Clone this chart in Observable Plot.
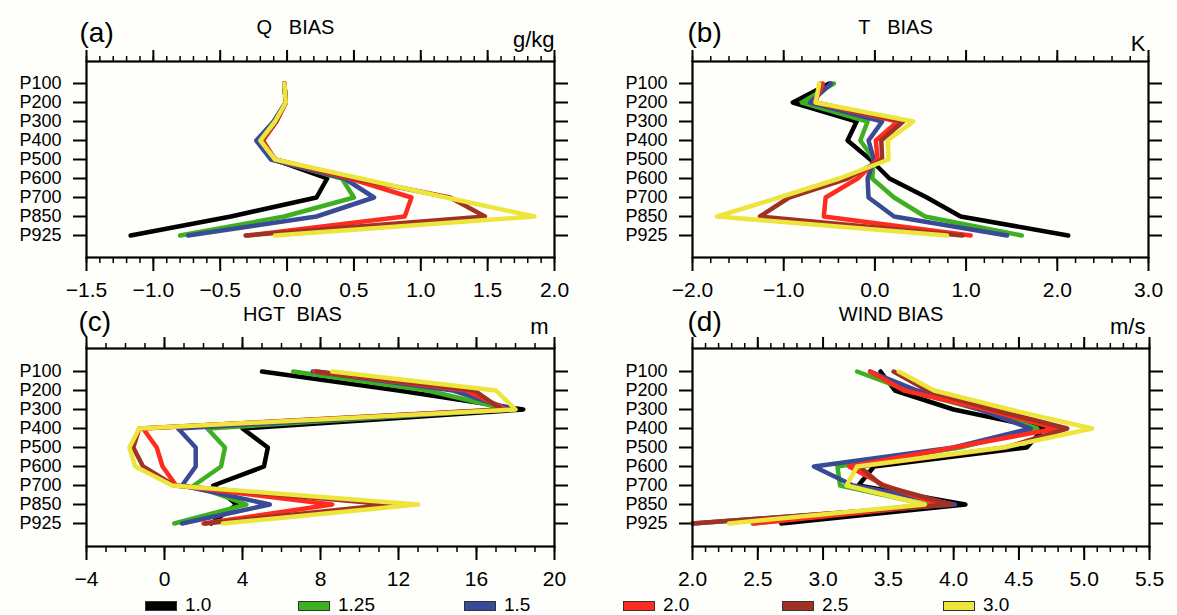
<!DOCTYPE html>
<html><head><meta charset="utf-8">
<script src="https://cdn.jsdelivr.net/npm/d3@7"></script>
<script src="https://cdn.jsdelivr.net/npm/@observablehq/plot@0.6"></script>
<style>
html,body{margin:0;padding:0;background:#fefefb;}
#root{position:relative;width:1177px;height:615px;overflow:hidden;font-family:"Liberation Sans",Arial,sans-serif;background:#fefefb;}
.panel{position:absolute;}
.sw{position:absolute;width:32px;height:10px;border:1px solid #333;box-sizing:border-box;}
.lg{position:absolute;font-size:19px;line-height:1;color:#000;}
</style></head><body><div id="root"></div>
<script>
// ---------- data ----------
const levels = ["P100","P200","P300","P400","P500","P600","P700","P850","P925"];
const series = ["1.0","1.25","1.5","2.0","2.5","3.0"];
const seriesColors = ["#000000","#3cb021","#394a96","#ff2b1f","#a03224","#ede53c"];

// one row per series (1.0, 1.25, 1.5, 2.0, 2.5, 3.0), one value per level
const qBias = [
  [-0.02,-0.01,-0.09,-0.21,-0.10, 0.30, 0.22,-0.42,-1.17],
  [-0.02,-0.01,-0.10,-0.22,-0.11, 0.41, 0.50,-0.02,-0.80],
  [-0.02,-0.01,-0.10,-0.23,-0.12, 0.43, 0.65, 0.22,-0.74],
  [-0.02,-0.01,-0.08,-0.18,-0.09, 0.47, 0.93, 0.88,-0.30],
  [-0.02,-0.01,-0.08,-0.19,-0.09, 0.50, 1.22, 1.48,-0.31],
  [-0.02,-0.01,-0.09,-0.20,-0.09, 0.55, 1.19, 1.85,-0.09]
];
const tBias = [
  [-0.50,-0.90,-0.20,-0.30,-0.05, 0.16, 0.57, 0.94, 2.12],
  [-0.45,-0.80,-0.08,-0.16,-0.01,-0.03, 0.21, 0.55, 1.61],
  [-0.48,-0.71, 0.08,-0.07,-0.01,-0.08,-0.07, 0.21, 1.45],
  [-0.57,-0.66, 0.25, 0.01, 0.03,-0.19,-0.54,-0.56, 1.05],
  [-0.60,-0.65, 0.31, 0.07, 0.08,-0.30,-0.94,-1.26, 0.96],
  [-0.61,-0.65, 0.42, 0.14, 0.15,-0.39,-1.05,-1.73, 0.79]
];
const hgtBias = [
  [5.0, 12.0, 18.4, 4.0, 5.3, 5.1, 2.5, 3.7, 2.4],
  [6.6, 13.5, 17.6, 2.2, 3.1, 2.9, 1.5, 4.2, 0.5],
  [7.6, 14.8, 17.8, 0.7, 1.6, 1.6, 0.9, 5.4, 0.9],
  [7.7, 15.5, 17.5,-1.1,-0.4,-0.1, 0.6, 8.6, 2.0],
  [7.8, 15.9, 17.3,-1.3,-1.6,-1.1, 0.5,11.6, 2.1],
  [8.6, 17.0, 18.0,-1.3,-1.8,-1.5, 0.4,13.0, 3.0]
];
const windBias = [
  [3.44, 3.55, 4.00, 4.69, 4.56, 3.39, 3.27, 4.09, 2.68],
  [3.26, 3.65, 4.20, 4.64, 4.05, 3.11, 3.13, 3.80, 2.46],
  [3.36, 3.72, 4.20, 4.59, 4.00, 2.93, 3.23, 4.01, 2.00],
  [3.36, 3.62, 4.25, 4.79, 4.00, 3.20, 3.47, 3.90, 2.47],
  [3.54, 3.80, 4.30, 4.87, 4.40, 3.28, 3.45, 3.98, 2.00],
  [3.58, 3.85, 4.43, 5.06, 4.38, 3.26, 3.18, 3.78, 2.28]
];

const qTicks = [-1.5,-1.0,-0.5,0,0.5,1.0,1.5,2.0];
const qTickLabels = ["\u22121.5","\u22121.0","\u22120.5","0.0","0.5","1.0","1.5","2.0"];
const tTicks = [-2,-1,0,1,2,3];
const tTickLabels = ["\u22122.0","\u22121.0","0.0","1.0","2.0","3.0"];
const hgtTicks = [-4,0,4,8,12,16,20];
const hgtTickLabels = ["\u22124","0","4","8","12","16","20"];
const windTicks = [2.0,2.5,3.0,3.5,4.0,4.5,5.0,5.5];
const windTickLabels = ["2.0","2.5","3.0","3.5","4.0","4.5","5.0","5.5"];

// ---------- drawing ----------
const root = document.getElementById("root");

function toRows(values) {
  const rows = [];
  values.forEach((vals, si) => vals.forEach((v, li) => rows.push({series: series[si], level: levels[li], value: v})));
  return rows;
}

function panel(o) {
  const [x0, x1] = [o.ticks[0], o.ticks[o.ticks.length - 1]];
  const n = Math.round((x1 - x0) / o.minorStep);
  const minor = d3.range(n + 1).map(i => +(x0 + i * o.minorStep).toFixed(6));
  const labelMap = new Map(o.ticks.map((t, i) => [t, o.labels[i]]));
  const fd = {frameAnchor: "top-left", lineAnchor: "bottom", fill: "black", text: d => d};
  const svg = Plot.plot({
    width: o.width, height: o.height,
    marginLeft: o.mL, marginRight: o.mR, marginTop: o.mT, marginBottom: o.mB,
    style: {background: "transparent", fontFamily: "'Liberation Sans', Arial, sans-serif", color: "black", overflow: "visible"},
    x: {domain: [x0, x1], label: null},
    y: {type: "point", domain: levels, padding: 1, label: null},
    color: {domain: series, range: seriesColors},
    marks: [
      Plot.axisX({anchor: "top", ticks: minor, tickSize: 6, tickFormat: () => "", strokeWidth: 1.5, label: null}),
      Plot.axisX({anchor: "top", ticks: o.ticks, tickSize: 12, tickFormat: () => "", strokeWidth: 2, label: null}),
      Plot.axisX({anchor: "bottom", ticks: minor, tickSize: 6, tickFormat: () => "", strokeWidth: 1.5, label: null}),
      Plot.axisX({anchor: "bottom", ticks: o.ticks, tickSize: 14, tickPadding: 11, tickFormat: d => labelMap.get(d), fontSize: 21, strokeWidth: 2, label: null}),
      Plot.axisY({anchor: "left", tickSize: 13, tickPadding: 12, fontSize: 18, strokeWidth: 2, label: null}),
      Plot.axisY({anchor: "right", tickSize: 13, tickFormat: () => "", strokeWidth: 2, label: null}),
      Plot.line(toRows(o.values), {x: "value", y: "level", z: "series", stroke: "series", strokeWidth: 4.5}),
      Plot.frame({stroke: "black", strokeWidth: 2.2}),
      Plot.text([o.title], {...fd, frameAnchor: "top", dx: o.titleDx, dy: -28, fontSize: 20}),
      Plot.text([o.letter], {...fd, frameAnchor: "top-left", textAnchor: "start", dx: o.letterDx, dy: o.letterDy, fontSize: 28}),
      Plot.text([o.unit], {...fd, frameAnchor: "top-right", textAnchor: "end", dx: o.unitDx, dy: o.unitDy, fontSize: 22})
    ]
  });
  const wrap = document.createElement("div");
  wrap.className = "panel";
  wrap.style.left = o.left + "px";
  wrap.style.top = o.top + "px";
  wrap.appendChild(svg);
  root.appendChild(wrap);
}

panel({values: qBias, ticks: qTicks, labels: qTickLabels, minorStep: 0.1,
  left: 0, top: 0, width: 588, height: 300, mL: 86, mR: 34, mT: 61, mB: 43,
  title: "Q\u00a0\u00a0 BIAS", titleDx: -25, letter: "(a)", letterDx: -7, letterDy: -20, unit: "g/kg", unitDx: 0, unitDy: -15});
panel({values: tBias, ticks: tTicks, labels: tTickLabels, minorStep: 0.2,
  left: 588, top: 0, width: 589, height: 300, mL: 104, mR: 29, mT: 61, mB: 43,
  title: "T\u00a0\u00a0 BIAS", titleDx: -25, letter: "(b)", letterDx: -5, letterDy: -20, unit: "K", unitDx: -3, unitDy: -11});
panel({values: hgtBias, ticks: hgtTicks, labels: hgtTickLabels, minorStep: 1,
  left: 0, top: 290, width: 588, height: 310, mL: 86, mR: 34, mT: 58, mB: 54,
  title: "HGT\u00a0 BIAS", titleDx: -28, letter: "(c)", letterDx: -8, letterDy: -18, unit: "m", unitDx: -6, unitDy: -15});
panel({values: windBias, ticks: windTicks, labels: windTickLabels, minorStep: 0.1,
  left: 588, top: 290, width: 589, height: 310, mL: 104, mR: 28, mT: 58, mB: 54,
  title: "WIND BIAS", titleDx: -30, letter: "(d)", letterDx: -5, letterDy: -18, unit: "m/s", unitDx: -4, unitDy: -15});

// legend
const legendLeft = [145, 298, 464, 623, 782, 943];
series.forEach((s, i) => {
  const sw = document.createElement("div");
  sw.className = "sw";
  sw.style.left = legendLeft[i] + "px";
  sw.style.top = "601px";
  sw.style.background = seriesColors[i];
  root.appendChild(sw);
  const t = document.createElement("div");
  t.className = "lg";
  t.textContent = s;
  t.style.left = (legendLeft[i] + 40) + "px";
  t.style.top = "595px";
  root.appendChild(t);
});
</script></body></html>
